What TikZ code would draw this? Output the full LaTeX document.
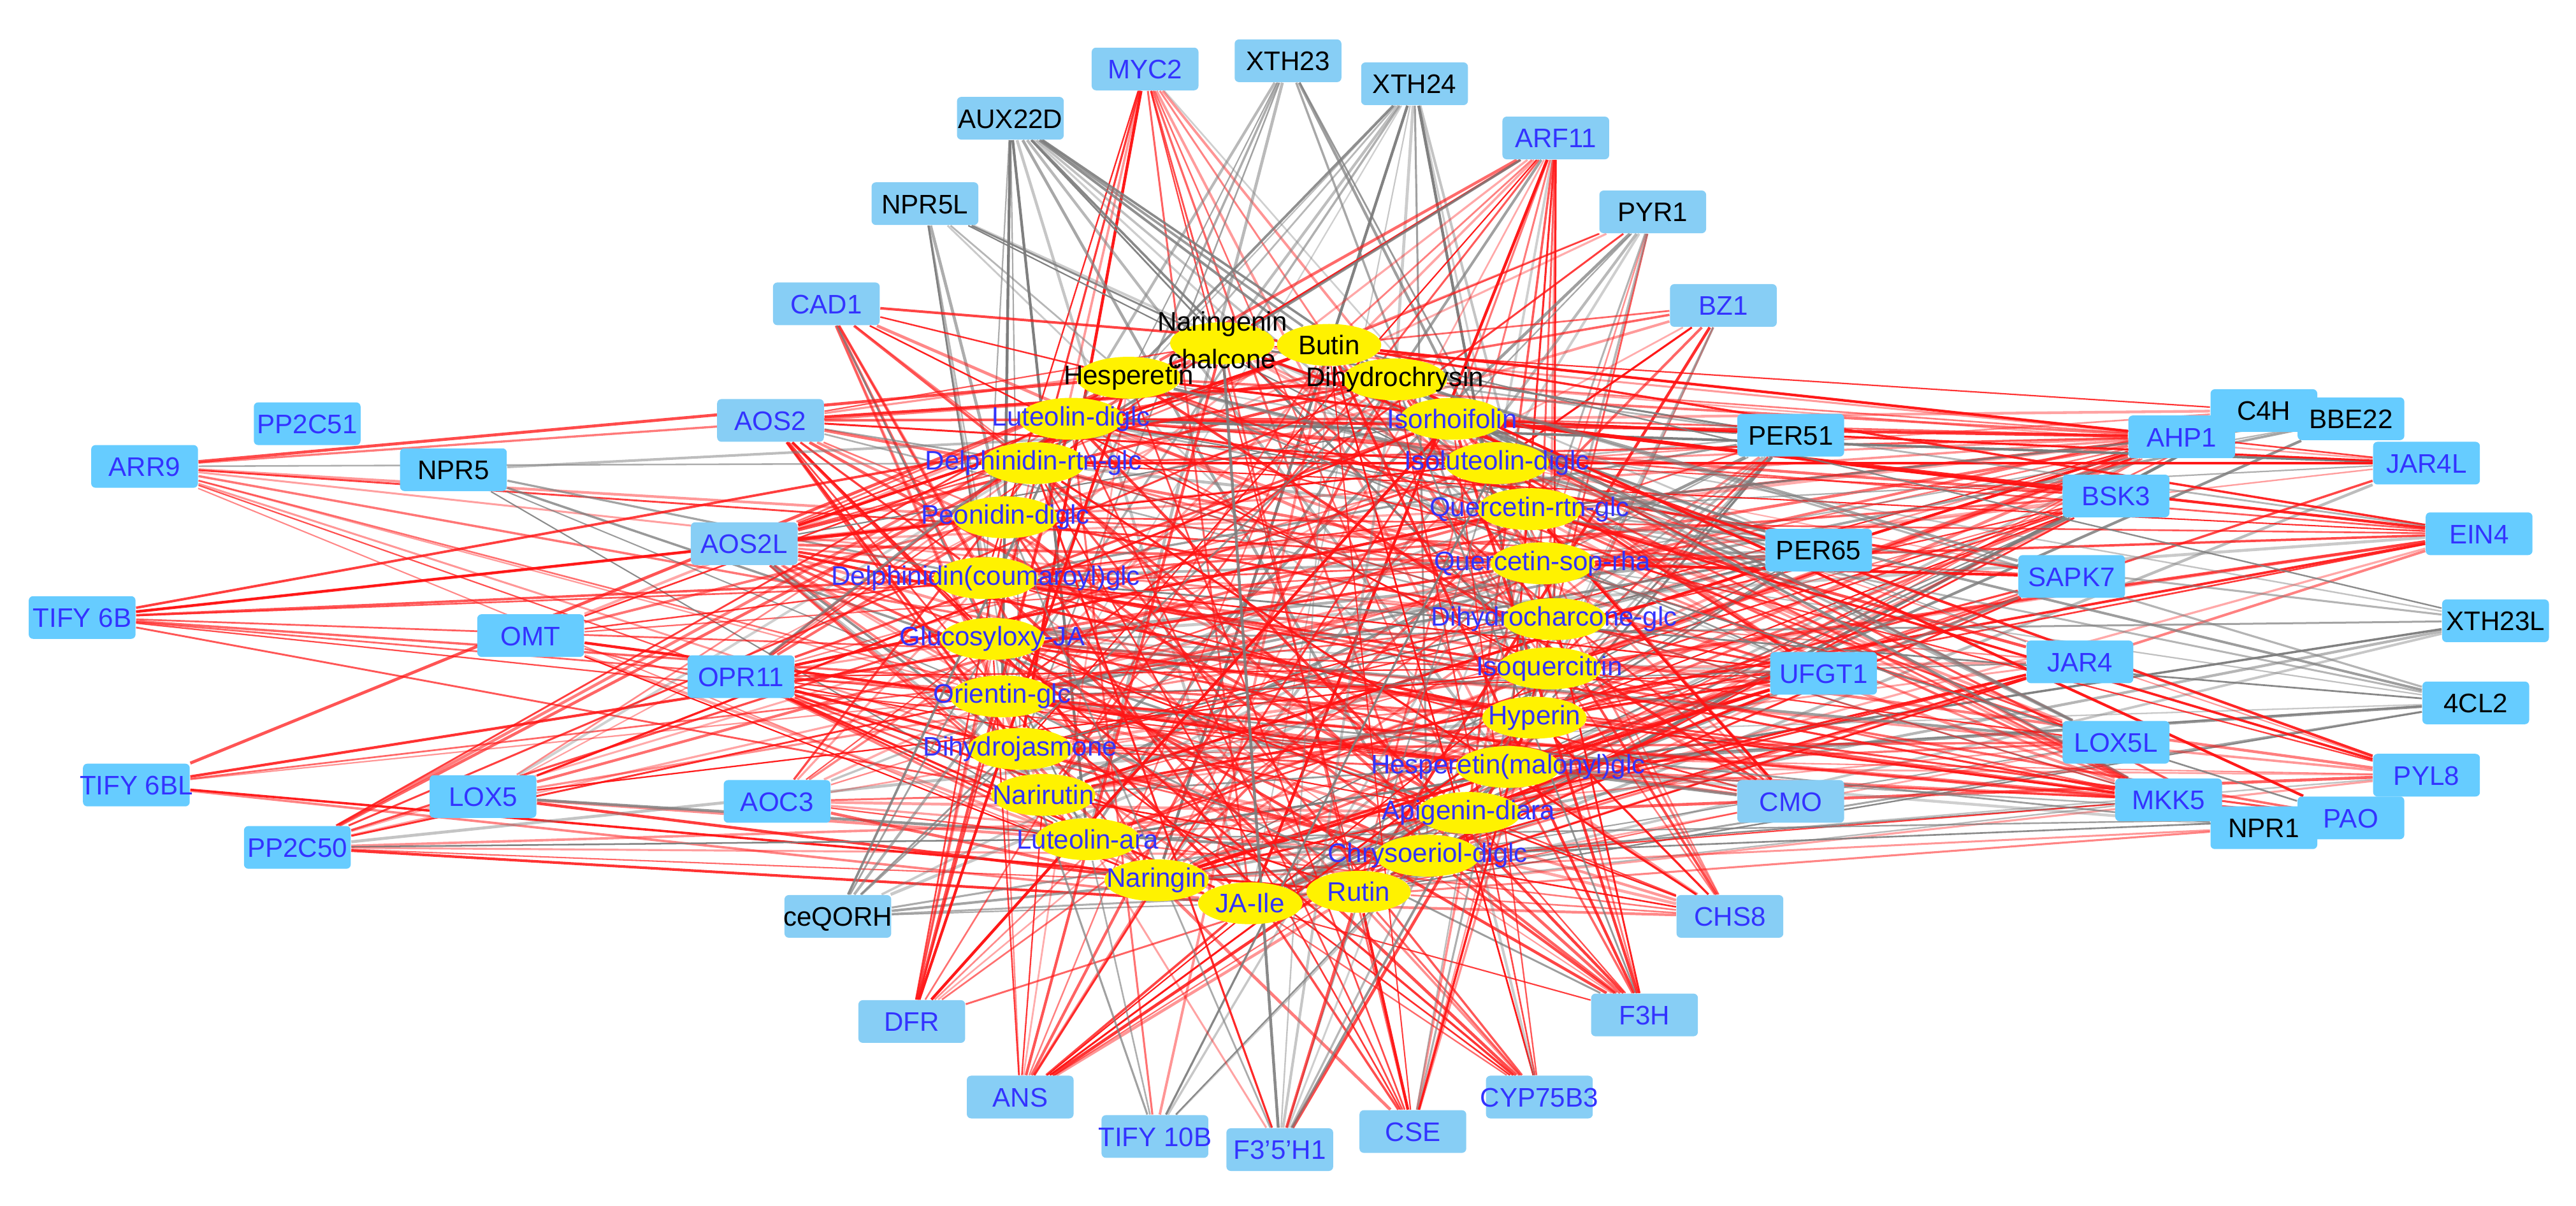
\documentclass[tikz,border=0pt]{standalone}
\usepackage{fontspec}
\setmainfont{Liberation Sans}
\usetikzlibrary{backgrounds,shapes.geometric}
\definecolor{boxchiaro}{RGB}{135,206,245}
\definecolor{boxscuro}{RGB}{102,204,255}
\definecolor{testoblu}{RGB}{51,51,255}
\definecolor{rosso}{RGB}{255,20,20}
\definecolor{grigio}{RGB}{125,125,125}

\def\metaboliti{narch/744/209/{\begin{tabular}{@{}c@{}}Naringenin\\[2pt]chalcone\end{tabular}}/black,
  butin/809/210/Butin/black, hesp/687/230/Hesperetin/black, dihc/849/231/Dihydrochrysin/black,
  lutdg/652/255/Luteolin-diglc/testoblu, isorh/884/255/Isorhoifolin/testoblu,
  delrg/629/282/Delphinidin-rtn-glc/testoblu, isold/911/282/Isoluteolin-diglc/testoblu,
  peodg/612/315/Peonidin-diglc/testoblu, querg/931/310/Quercetin-rtn-glc/testoblu,
  delco/600/352/Delphinidin(coumaroyl)glc/testoblu, quesr/939/343/Quercetin-sop-rha/testoblu,
  gluja/604/389/Glucosyloxy-JA/testoblu, dhcg/946/377/Dihydrocharcone-glc/testoblu,
  orig/610/424/Orientin-glc/testoblu, isoq/943/407/Isoquercitrin/testoblu,
  hyp/934/437/Hyperin/testoblu, dhj/621/456/Dihydrojasmone/testoblu,
  hespm/918/467/Hesperetin(malonyl)glc/testoblu, nari/635/484/Narirutin/testoblu,
  apid/894/495/Apigenin-diara/testoblu, lutara/662/511/Luteolin-ara/testoblu,
  chry/869/521/Chrysoeriol-diglc/testoblu, naring/704/536/Naringin/testoblu,
  rutin/827/543/Rutin/testoblu, jaile/761/550/JA-Ile/testoblu}

\begin{document}
\begin{tikzpicture}[x=0.02cm, y=-0.02cm,
    gene/.style={rectangle, rounded corners=1.5pt, minimum width=1.3cm, minimum height=0.52cm,
      inner sep=0pt, text height=6.8pt, text depth=0pt, font=\fontsize{9.3}{11}\selectfont},
    gl/.style={gene, fill=boxchiaro, text=testoblu},
    glk/.style={gene, fill=boxchiaro, text=black},
    gs/.style={gene, fill=boxscuro, text=testoblu},
    gsk/.style={gene, fill=boxscuro, text=black},
    cpd/.style={ellipse, fill=yellow, minimum width=1.27cm, minimum height=0.51cm, inner sep=0pt},
    cpdtext/.style={inner sep=0pt, font=\fontsize{9.3}{11}\selectfont},
    redlink/.style={draw=rosso},
    greylink/.style={draw=grigio}]
	\useasboundingbox (0,0) rectangle (1568,734);
	% Geni
	\foreach \n/\x/\y/\t/\s in {myc2/697/42/MYC2/gl, xth23/784/37/XTH23/glk, xth24/861/51/XTH24/glk,
	    aux22d/615/72/AUX22D/glk, arf11/947/84/ARF11/gl, npr5l/563/124/NPR5L/glk, pyr1/1006/129/PYR1/glk,
	    cad1/503/185/CAD1/gl, bz1/1049/186/BZ1/gl, pp2c51/187/258/PP2C51/gs, aos2/469/256/AOS2/gl,
	    arr9/88/284/ARR9/gs, npr5/276/286/NPR5/gsk, aos2l/453/331/AOS2L/gl, per51/1090/265/PER51/gsk,
	    c4h/1378/250/C4H/gsk, ahp1/1328/266/AHP1/gs, bbe22/1431/255/BBE22/gsk, jar4l/1477/282/JAR4L/gs,
	    bsk3/1288/302/BSK3/gs, ein4/1509/325/EIN4/gs, per65/1107/335/PER65/gsk, sapk7/1261/351/SAPK7/gs,
	    tify6b/50/376/TIFY 6B/gs, omt/323/387/OMT/gs, xth23l/1519/378/XTH23L/gsk, opr11/451/412/OPR11/gs,
	    ufgt1/1110/410/UFGT1/gs, jar4/1266/403/JAR4/gs, cl2/1507/428/4CL2/gsk, lox5l/1288/452/LOX5L/gs,
	    pyl8/1477/472/PYL8/gs, tify6bl/83/478/TIFY 6BL/gs, lox5/294/485/LOX5/gs, aoc3/473/488/AOC3/gs,
	    cmo/1090/488/CMO/gl, mkk5/1320/487/MKK5/gs, npr1/1378/504/NPR1/gsk, pao/1431/498/PAO/gs,
	    pp2c50/181/516/PP2C50/gs, ceqorh/510/558/ceQORH/glk, chs8/1053/558/CHS8/gl, dfr/555/622/DFR/gl,
	    f3h/1001/618/F3H/gl, ans/621/668/ANS/gl, cyp/937/668/CYP75B3/gl, cse/860/689/CSE/gl,
	    tify10b/703/692/TIFY 10B/gl, f35h1/779/700/F3'5'H1/gl}
	  \node[\s] (\n) at (\x,\y) {\makebox[0pt]{\t}};
	% Metaboliti
	\foreach \n/\x/\y/\t/\k in \metaboliti
	  \node[cpd] (\n) at (\x,\y) {};
	\foreach \n/\x/\y/\t/\k in \metaboliti
	  \node[cpdtext, text=\k] (\n-t) at (\n) {\makebox[0pt]{\t}};
	% Collegamenti
	\pgfmathsetseed{2718}
	\begin{scope}[on background layer]
	\foreach \g/\pr/\pg in {myc2/0.45/0.05, xth23/0/0.35, xth24/0/0.45, aux22d/0/0.5, arf11/0.5/0.05,
	    npr5l/0/0.35, pyr1/0.15/0.15, cad1/0.5/0.05, bz1/0.45/0.05, pp2c51/0.05/0, aos2/0.6/0.1,
	    arr9/0.35/0.04, npr5/0/0.15, aos2l/0.55/0.1, per51/0.1/0.4, c4h/0.2/0.2, ahp1/0.8/0.05,
	    bbe22/0/0.15, jar4l/0.3/0.2, bsk3/0.6/0.1, ein4/0.4/0.1, per65/0.05/0.45, sapk7/0.3/0.1,
	    tify6b/0.25/0.05, omt/0.3/0.05, xth23l/0/0.3, opr11/0.7/0.05, ufgt1/0.7/0.1, jar4/0.3/0.15,
	    cl2/0/0.35, lox5l/0.3/0.1, pyl8/0.4/0.05, tify6bl/0.12/0, lox5/0.25/0.05, aoc3/0.5/0.05,
	    cmo/0.4/0.2, mkk5/0.55/0.1, npr1/0.2/0.2, pao/0.1/0.1, pp2c50/0.4/0.05, ceqorh/0/0.35,
	    chs8/0.5/0.05, dfr/0.5/0.05, f3h/0.5/0.05, ans/0.5/0.05, cyp/0.5/0.05, cse/0.3/0.05,
	    tify10b/0.1/0.1, f35h1/0.2/0.25}{
	  \foreach \c/\cx/\cy/\ct/\ck in \metaboliti{
	    \pgfmathsetmacro\rv{rnd}
	    \pgfmathsetmacro\lw{0.45+0.6*rnd}
	    \pgfmathsetmacro\op{0.35+0.65*rnd}
	    \pgfmathsetmacro\cut{\pr+\pg}
	    \ifdim\rv pt<\pr pt
	      \draw[redlink, line width=\lw pt, draw opacity=\op] (\g) -- (\c);
	    \else\ifdim\rv pt<\cut pt
	      \draw[greylink, line width=\lw pt, draw opacity=\op] (\g) -- (\c);
	    \fi\fi
	  }
	}
	\end{scope}
\end{tikzpicture}
\end{document}
